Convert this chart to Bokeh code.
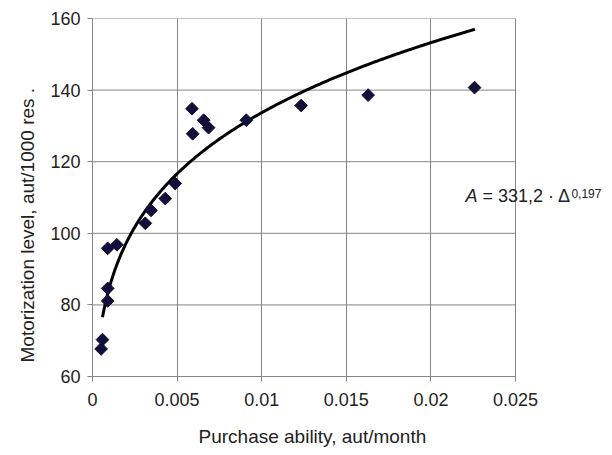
import numpy as np
from bokeh.plotting import figure
from bokeh.models import Range1d, FixedTicker, Label, Title
from bokeh.embed import file_html
from bokeh.resources import INLINE

# ---- data ----
purchase_ability = [0.00051, 0.00059, 0.00090, 0.00090, 0.00090, 0.00144, 0.00312,
                    0.00346, 0.00430, 0.00489, 0.00588, 0.00592, 0.00657, 0.00686,
                    0.00909, 0.01233, 0.01629, 0.02258]
motorization = [67.7, 70.3, 81.1, 84.6, 95.8, 96.8, 102.8,
                106.4, 109.7, 113.9, 134.8, 127.8, 131.6, 129.5,
                131.6, 135.7, 138.6, 140.7]
fit_coef = 331.2
fit_exp = 0.197
fit_x_min = 0.00059
fit_x_max = 0.0226
x_ticks = [0, 0.005, 0.01, 0.015, 0.02, 0.025]
x_tick_labels = ["0", "0.005", "0.01", "0.015", "0.02", "0.025"]
y_ticks = [60, 80, 100, 120, 140, 160]
x_title = "Purchase ability, aut/month"
y_title = "Motorization level, aut/1000 res ."

FONT = "Liberation Sans"
TXT = "#222222"
GRID = "#858585"

X_MIN, X_MAX = x_ticks[0], x_ticks[-1]
Y_MIN, Y_MAX = y_ticks[0], y_ticks[-1]

PLOT_W = 423          # pixel width of the 0..0.025 area
FRAME_W = 510         # frame extended to the right to leave room for the equation
x_end = X_MAX * FRAME_W / PLOT_W

fx = np.linspace(fit_x_min, fit_x_max, 300)
fy = fit_coef * fx ** fit_exp

p = figure(frame_width=FRAME_W, frame_height=358, output_backend="svg", toolbar_location=None,
           x_range=Range1d(X_MIN, x_end), y_range=Range1d(Y_MIN, Y_MAX),
           min_border_left=92, min_border_right=0, min_border_top=18, min_border_bottom=70)
p.background_fill_color = "white"
p.border_fill_color = "white"
p.outline_line_color = None

p.xaxis.ticker = FixedTicker(ticks=x_ticks)
p.xaxis.major_label_overrides = {t: l for t, l in zip(x_ticks, x_tick_labels)}
p.xaxis.bounds = (X_MIN, X_MAX)
p.yaxis.ticker = FixedTicker(ticks=y_ticks)

for ax in (p.xaxis, p.yaxis):
    ax.axis_line_color = GRID
    ax.major_tick_line_color = GRID
    ax.major_tick_out = 5
    ax.major_tick_in = 0
    ax.minor_tick_line_color = None
    ax.major_label_text_font = FONT
    ax.major_label_text_font_size = "18px"
    ax.major_label_text_color = TXT
p.xaxis.major_label_standoff = 11
p.yaxis.major_label_standoff = 7

# grid: vertical lines by the library, horizontal lines limited to the 0..0.025 box
p.xgrid.grid_line_color = GRID
p.xgrid.grid_line_width = 1
p.ygrid.grid_line_color = None
p.segment(x0=[X_MIN] * len(y_ticks), y0=y_ticks, x1=[X_MAX] * len(y_ticks), y1=y_ticks,
          line_color=GRID, line_width=1)

p.line(fx, fy, line_color="black", line_width=3)
p.scatter(purchase_ability, motorization, marker="square", angle=np.pi / 4, size=9,
          fill_color="#10103a", line_color="#10103a")

# axis titles
p.add_layout(Title(text=x_title, align="left", offset=106, text_font=FONT,
                   text_font_size="19px", text_font_style="normal", text_color=TXT,
                   standoff=30), "below")
p.add_layout(Title(text=y_title, align="left", offset=14, text_font=FONT,
                   text_font_size="19px", text_font_style="normal", text_color=TXT,
                   standoff=20), "left")

# equation
eq_x, eq_y = 0.02204, 107.5
p.add_layout(Label(x=eq_x, y=eq_y, text="A", text_font=FONT, text_font_size="18px",
                   text_font_style="italic", text_color=TXT))
p.add_layout(Label(x=eq_x, y=eq_y, x_offset=17, text="= 331,2 · Δ", text_font=FONT,
                   text_font_size="18px", text_color=TXT))
p.add_layout(Label(x=eq_x, y=eq_y, x_offset=106, y_offset=8, text="0,197", text_font=FONT,
                   text_font_size="12px", text_color=TXT))

open("out.html", "w").write(file_html(p, INLINE))
